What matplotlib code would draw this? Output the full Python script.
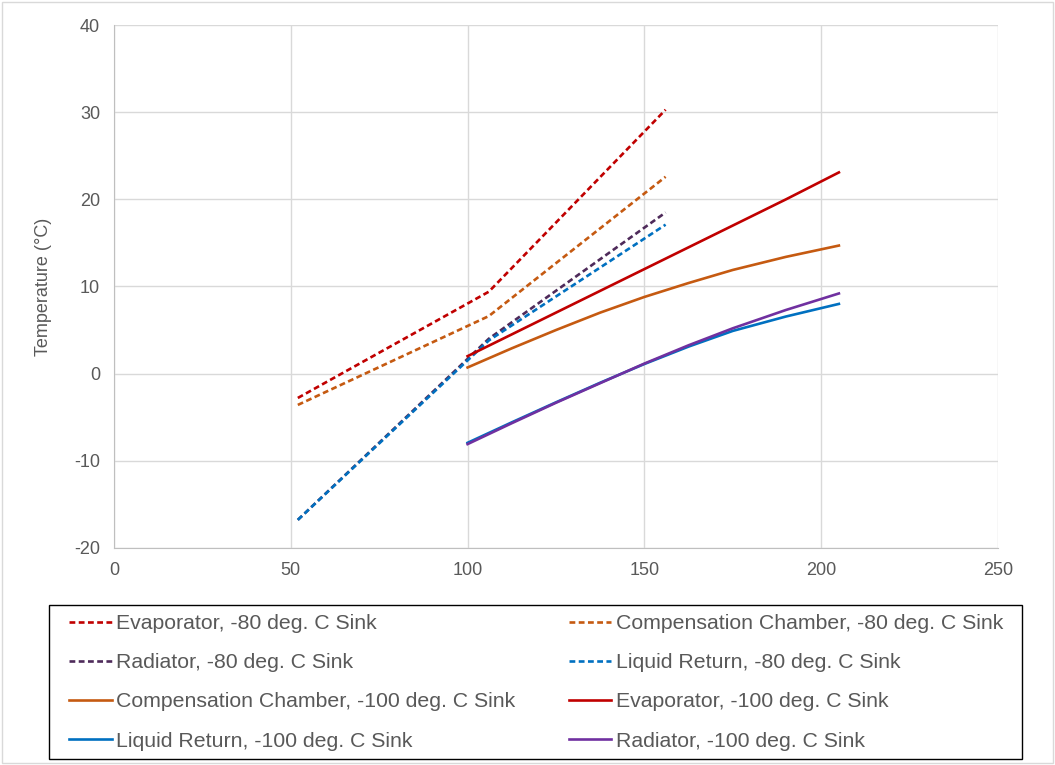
import matplotlib.pyplot as plt
from matplotlib.patches import Rectangle

# -80 deg. C sink (dashed)
x_80 = [52, 106, 156]
evap_80 = [-2.8, 9.4, 30.3]
comp_80 = [-3.6, 6.6, 22.6]
rad_80 = [-16.8, 4.0, 18.5]
liq_80 = [-16.8, 3.8, 17.1]

# -100 deg. C sink (solid)
x_100 = [100, 112.5, 125, 137.5, 150, 162.5, 175, 190, 205]
comp_100 = [0.7, 2.9, 5.0, 7.0, 8.8, 10.4, 11.9, 13.4, 14.7]
evap_100 = [2.0, 4.5, 7.0, 9.5, 12.0, 14.5, 17.0, 20.0, 23.1]
liq_100 = [-7.95, -5.6, -3.3, -1.05, 1.1, 3.1, 4.9, 6.55, 8.0]
rad_100 = [-8.1, -5.7, -3.35, -1.1, 1.15, 3.25, 5.2, 7.3, 9.2]

RED = "#C00000"
ORANGE = "#C55A11"
DARK_PURPLE = "#4E2A5A"
BLUE = "#0070C0"
PURPLE = "#7030A0"
GREY = "#595959"


def main():
    plt.rcParams["font.family"] = ["Liberation Sans", "DejaVu Sans"]
    plt.rcParams["axes.unicode_minus"] = False
    fig = plt.figure(figsize=(10.55, 7.65), dpi=100)
    ax = fig.add_axes([0.108, 0.284, 0.838, 0.683])

    dash = (0, (2.2, 1.3))
    lw = 1.9
    h = {}
    h["e80"], = ax.plot(x_80, evap_80, color=RED, lw=lw, ls=dash,
                        label="Evaporator, -80 deg. C Sink")
    h["c80"], = ax.plot(x_80, comp_80, color=ORANGE, lw=lw, ls=dash,
                        label="Compensation Chamber, -80 deg. C Sink")
    h["r80"], = ax.plot(x_80, rad_80, color=DARK_PURPLE, lw=lw, ls=dash,
                        label="Radiator, -80 deg. C Sink")
    h["l80"], = ax.plot(x_80, liq_80, color=BLUE, lw=lw, ls=dash,
                        label="Liquid Return, -80 deg. C Sink")
    h["c100"], = ax.plot(x_100, comp_100, color=ORANGE, lw=lw,
                         label="Compensation Chamber, -100 deg. C Sink")
    h["e100"], = ax.plot(x_100, evap_100, color=RED, lw=lw,
                         label="Evaporator, -100 deg. C Sink")
    h["l100"], = ax.plot(x_100, liq_100, color=BLUE, lw=lw,
                         label="Liquid Return, -100 deg. C Sink")
    h["r100"], = ax.plot(x_100, rad_100, color=PURPLE, lw=lw,
                         label="Radiator, -100 deg. C Sink")

    ax.set_xlim(0, 250)
    ax.set_ylim(-20, 40)
    ax.set_xticks(range(0, 251, 50))
    ax.set_yticks(range(-20, 41, 10))
    ax.grid(True, color="#D9D9D9", lw=1)
    ax.set_axisbelow(True)
    for side in ["top", "right"]:
        ax.spines[side].set_visible(False)
    for side in ["left", "bottom"]:
        ax.spines[side].set_color("#BFBFBF")
    ax.tick_params(length=0, labelsize=13, colors=GREY, pad=10)
    ax.set_ylabel("Temperature (°C)", fontsize=13, color=GREY, labelpad=16)

    # column-wise order for a row-wise legend
    order = ["e80", "r80", "c100", "l100", "c80", "l80", "e100", "r100"]
    handles = [h[k] for k in order]
    W, H = 1055, 765
    leg = fig.legend(handles, [x.get_label() for x in handles],
                     loc="upper left", ncol=2, mode="expand",
                     bbox_to_anchor=(69 / W, 1 - 614 / H, 934 / W, 0),
                     bbox_transform=fig.transFigure, fontsize=15.3,
                     frameon=False, handlelength=2.0,
                     handletextpad=0.2, labelspacing=0.95, borderaxespad=0,
                     borderpad=0)
    for t in leg.get_texts():
        t.set_color(GREY)

    # legend border
    fig.patches.append(Rectangle((49 / W, 1 - 759 / H), 973 / W, 154 / H,
                                 transform=fig.transFigure, fill=False,
                                 edgecolor="black", lw=1))
    # chart area border
    fig.patches.append(Rectangle((0.002, 0.002), 0.996, 0.996,
                                 transform=fig.transFigure, fill=False,
                                 edgecolor="#D9D9D9", lw=1))
    fig.savefig("out.png", dpi=100)


if __name__ == "__main__":
    main()
